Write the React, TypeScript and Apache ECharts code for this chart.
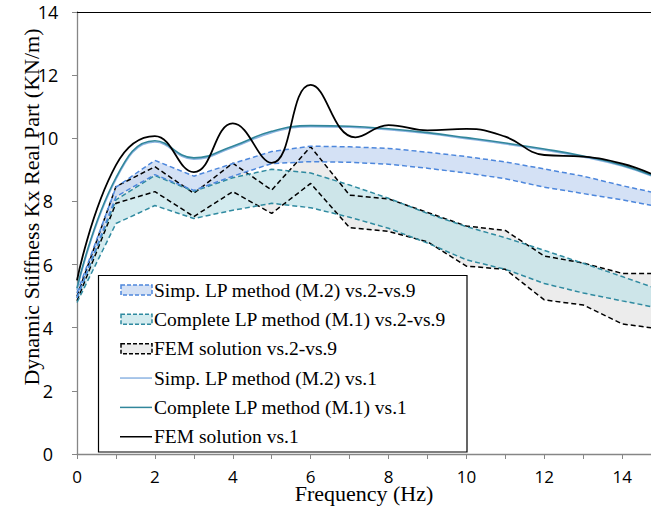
import React, { useEffect, useRef } from "react";
import * as echarts from "echarts";

// ---- data ----
const freqs = [0, 1, 2, 3, 4, 5, 6, 7, 8, 9, 10, 11, 12, 13, 14, 14.74];
const simpBandUpper = [5.1, 8.45, 9.3, 8.8, 9.2, 9.58, 9.75, 9.73, 9.68, 9.56, 9.42, 9.25, 9.03, 8.8, 8.5, 8.3];
const simpBandLower = [4.95, 8.15, 8.85, 8.35, 8.8, 9.2, 9.26, 9.24, 9.18, 9.05, 8.9, 8.72, 8.45, 8.25, 8.05, 7.88];
const compBandUpper = [4.95, 8.05, 8.82, 8.32, 8.75, 9.02, 8.9, 8.52, 8.1, 7.62, 7.2, 6.85, 6.45, 6.04, 5.62, 5.3];
const compBandLower = [4.8, 7.3, 7.87, 7.46, 7.72, 7.94, 7.8, 7.5, 7.15, 6.68, 6.15, 5.85, 5.4, 5.1, 4.85, 4.67];

const femFreqs = [0, 1, 2, 3, 4, 5, 6, 7, 8, 9, 10, 11, 12, 13, 14, 14.74];
const femBandUpper = [5.0, 8.47, 9.1, 8.26, 9.21, 8.36, 9.73, 8.2, 8.08, 7.65, 7.22, 7.08, 6.27, 6.05, 5.72, 5.72];
const femBandLower = [4.85, 7.94, 8.31, 7.52, 8.31, 7.62, 8.57, 7.17, 7.05, 6.72, 5.95, 5.85, 4.88, 4.72, 4.12, 4.0];

const vs1Freqs = [0, 1, 2, 3, 4, 5, 6, 7, 8, 9, 10, 11, 12, 13, 14, 14.74];
const compVs1 = [5.25, 8.75, 9.92, 9.38, 9.75, 10.22, 10.4, 10.38, 10.3, 10.18, 10.02, 9.85, 9.66, 9.44, 9.15, 8.84];
const simpVs1 = [5.2, 8.7, 9.88, 9.34, 9.71, 10.18, 10.37, 10.35, 10.27, 10.15, 9.99, 9.82, 9.63, 9.41, 9.12, 8.81];

const femVs1Freqs = [0, 1, 2, 3, 4, 5, 6, 7.15, 8, 9, 10, 11, 12, 13, 14, 14.74];
const femVs1 = [5.5, 9.15, 10.07, 8.93, 10.47, 9.22, 11.69, 10.03, 10.42, 10.25, 10.3, 10.05, 9.47, 9.42, 9.2, 8.88];

const seriesNames = [
  "Simp. LP method (M.2) vs.2-vs.9",
  "Complete LP method (M.1) vs.2-vs.9",
  "FEM solution vs.2-vs.9",
  "Simp. LP method (M.2) vs.1",
  "Complete LP method (M.1) vs.1",
  "FEM solution vs.1",
];
const xTitle = "Frequency (Hz)";
const yTitle = "Dynamic Stiffness Kx Real Part (KN/m)";
const xMax = 14.74;

// ---- styles ----
const blueLine = "#4d87dc";
const blueFill = "rgba(194,212,241,0.7)";
const tealLine = "#2f8aa0";
const tealFill = "rgba(192,226,232,0.7)";
const femFill = "#ececec";
const tealSolid = "#31869b";
const lightBlue = "#8db4e2";
const axisGray = "#868686";
const serif = "'Liberation Serif', serif";

function bandFill(name: string, xs: number[], lower: number[], upper: number[], fill: string) {
  return {
    type: "custom",
    name,
    silent: true,
    clip: true,
    data: xs.map((x, i) => [x, lower[i], upper[i]]),
    encode: { x: 0, y: [1, 2] },
    renderItem: (params: any, api: any) => {
      if (params.dataIndex !== 0) return null;
      const top = xs.map((x, i) => api.coord([x, upper[i]]));
      const bottom = xs.map((x, i) => api.coord([x, lower[i]])).reverse();
      return { type: "polygon", shape: { points: top.concat(bottom) }, style: { fill } };
    },
  };
}

function dashLine(name: string, xs: number[], ys: number[], color: string) {
  return {
    type: "line",
    name,
    silent: true,
    symbol: "none",
    clip: true,
    data: xs.map((x, i) => [x, ys[i]]),
    lineStyle: { color, width: 1.5, type: [5, 3] },
  };
}

function solidLine(name: string, xs: number[], ys: number[], color: string, width: number) {
  return {
    type: "line",
    name,
    silent: true,
    symbol: "none",
    smooth: 0.45,
    clip: true,
    data: xs.map((x, i) => [x, ys[i]]),
    lineStyle: { color, width },
  };
}

function legendGraphic() {
  const left = 98.5;
  const top = 275.5;
  const children: any[] = [
    {
      type: "rect",
      shape: { x: left, y: top, width: 368.5, height: 176.5 },
      style: { fill: "#fff", stroke: "#000", lineWidth: 1.2 },
    },
  ];
  const fills = [blueFill, tealFill, femFill];
  const strokes = [blueLine, tealLine, "#000"];
  const solids = [lightBlue, tealSolid, "#000"];
  seriesNames.forEach((name, i) => {
    const cy = 290 + i * 29.35;
    if (i < 3) {
      children.push({
        type: "rect",
        shape: { x: 121, y: cy - 5, width: 31, height: 10 },
        style: { fill: fills[i], stroke: strokes[i], lineWidth: 1.5, lineDash: [4, 2] },
      });
    } else {
      children.push({
        type: "line",
        shape: { x1: 120, y1: cy, x2: 152, y2: cy },
        style: { stroke: solids[i - 3], lineWidth: 1.5 },
      });
    }
    children.push({
      type: "text",
      x: 154,
      y: cy,
      style: {
        text: name,
        fontFamily: serif,
        fontSize: 19.5,
        fill: "#000",
        align: "left",
        verticalAlign: "middle",
      },
    });
  });
  return { type: "group", children };
}

const option: any = {
  animation: false,
  backgroundColor: "#fff",
  grid: { left: 77, top: 12, right: 0, bottom: 55, containLabel: false, outerBoundsMode: "none" },
  xAxis: [
    {
      type: "value",
      min: 0,
      max: xMax,
      interval: 2,
      axisLine: { show: true, lineStyle: { color: axisGray, width: 1.3 } },
      axisTick: { show: true, length: 5, lineStyle: { color: axisGray, width: 1 } },
      minorTick: { show: true, splitNumber: 2, length: 5, lineStyle: { color: axisGray, width: 1 } },
      splitLine: { show: false },
      minorSplitLine: { show: false },
      axisLabel: {
        showMaxLabel: false,
        color: "#000",
        fontFamily: "Open Sans",
        fontSize: 17,
        lineHeight: 18,
        margin: 13,
      },
      name: xTitle,
      nameLocation: "middle",
      nameGap: 28,
      nameMoveOverlap: false,
      nameTextStyle: { fontFamily: serif, fontSize: 22, lineHeight: 22, color: "#000" },
    },
    {
      type: "value",
      position: "top",
      min: 0,
      max: xMax,
      axisLine: { show: true, onZero: false, lineStyle: { color: "#000", width: 1.2 } },
      axisTick: { show: false },
      axisLabel: { show: false },
      splitLine: { show: false },
    },
  ],
  yAxis: {
    type: "value",
    min: 0,
    max: 14,
    interval: 2,
    axisLine: { show: true, lineStyle: { color: axisGray, width: 1.3 } },
    axisTick: { show: true, length: 5, lineStyle: { color: axisGray, width: 1 } },
    splitLine: { show: false },
    axisLabel: { color: "#000", fontFamily: "Open Sans", fontSize: 18, margin: 29, align: "center" },
  },
  graphic: [
    {
      type: "text",
      x: 31,
      y: 207,
      rotation: Math.PI / 2,
      style: {
        text: yTitle,
        fontFamily: serif,
        fontSize: 22,
        fill: "#000",
        align: "center",
        verticalAlign: "middle",
      },
    },
    legendGraphic(),
  ],
  series: [
    bandFill(seriesNames[2], femFreqs, femBandLower, femBandUpper, femFill),
    dashLine(seriesNames[2] + " upper", femFreqs, femBandUpper, "#000"),
    dashLine(seriesNames[2] + " lower", femFreqs, femBandLower, "#000"),
    bandFill(seriesNames[1], freqs, compBandLower, compBandUpper, tealFill),
    dashLine(seriesNames[1] + " upper", freqs, compBandUpper, tealLine),
    dashLine(seriesNames[1] + " lower", freqs, compBandLower, tealLine),
    bandFill(seriesNames[0], freqs, simpBandLower, simpBandUpper, blueFill),
    dashLine(seriesNames[0] + " upper", freqs, simpBandUpper, blueLine),
    dashLine(seriesNames[0] + " lower", freqs, simpBandLower, blueLine),
    solidLine(seriesNames[3], vs1Freqs, simpVs1, lightBlue, 1.6),
    solidLine(seriesNames[4], vs1Freqs, compVs1, tealSolid, 1.6),
    solidLine(seriesNames[5], femVs1Freqs, femVs1, "#000", 1.8),
  ],
};

export default function App() {
  const ref = useRef<HTMLDivElement>(null);
  useEffect(() => {
    const chart = echarts.init(ref.current!, null, { renderer: "svg" });
    chart.setOption(option);
    return () => chart.dispose();
  }, []);
  return (
    <div
      ref={ref}
      style={{ position: "absolute", left: 0, top: 0, width: 651, height: 509, background: "#fff" }}
    />
  );
}
